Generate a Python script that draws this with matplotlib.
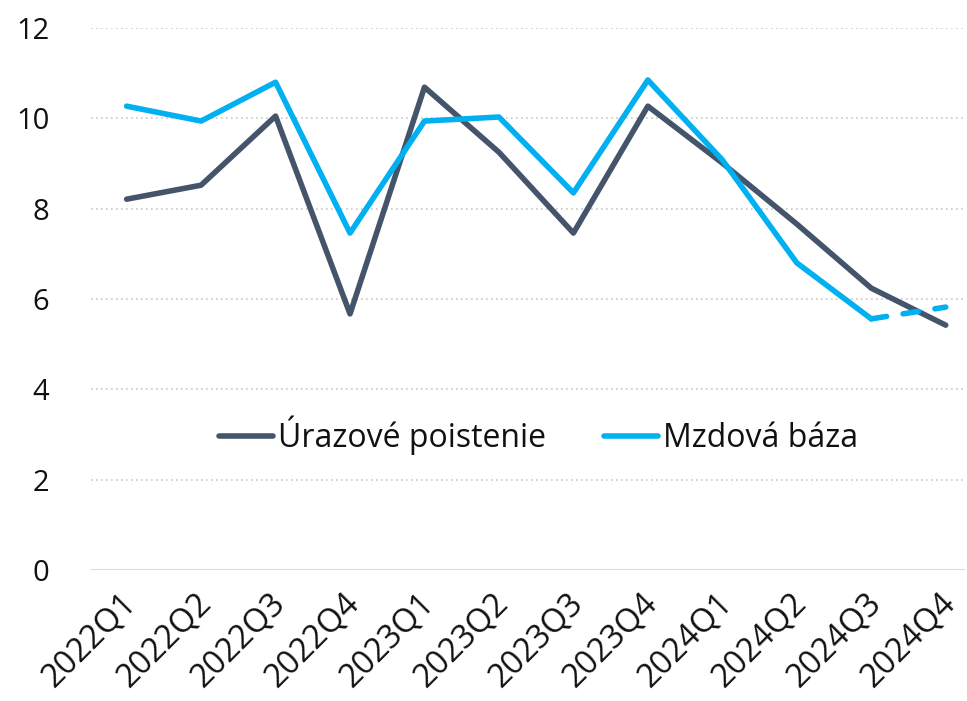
import matplotlib
matplotlib.use("Agg")
import matplotlib.pyplot as plt
from matplotlib.transforms import ScaledTranslation

quarters = ["2022Q1", "2022Q2", "2022Q3", "2022Q4",
            "2023Q1", "2023Q2", "2023Q3", "2023Q4",
            "2024Q1", "2024Q2", "2024Q3", "2024Q4"]
urazove = [8.21, 8.52, 10.05, 5.67, 10.69, 9.25, 7.46, 10.27, 9.01, 7.66, 6.24, 5.42]
mzdova = [10.27, 9.94, 10.80, 7.46, 9.94, 10.03, 8.35, 10.85, 9.08, 6.80, 5.56, 5.82]
n_actual = 11  # last point of Mzdová báza is a forecast (dashed)

DARK = "#44546A"
LIGHT = "#00B0F0"

plt.rcParams["font.family"] = ["Open Sans", "DejaVu Sans"]

fig = plt.figure(figsize=(9.67, 7.01), dpi=100)
ax = fig.add_axes([0.094, 0.187, 0.904, 0.773])

x = list(range(len(quarters)))
ax.plot(x, urazove, color=DARK, lw=4, solid_capstyle="round",
        solid_joinstyle="round", label="Úrazové poistenie", zorder=3)
ax.plot(x[:n_actual], mzdova[:n_actual], color=LIGHT, lw=4, solid_capstyle="round",
        solid_joinstyle="round", label="Mzdová báza", zorder=3)
ax.plot(x[n_actual - 1:], mzdova[n_actual - 1:], color=LIGHT, lw=4,
        linestyle=(0, (2.8, 3)), dash_capstyle="round", zorder=3)

ax.set_ylim(0, 12)
ax.set_xlim(-0.48, 11.26)
ax.set_yticks(range(0, 13, 2))
ax.set_xticks(x)
ax.set_xticklabels(quarters, rotation=45, ha="right", rotation_mode="anchor")
ax.tick_params(axis="both", length=0, labelsize=21, labelcolor="#111111")
ax.tick_params(axis="x", pad=12, labelsize=23.5)
ax.tick_params(axis="y", pad=30)

# nudge the rotated quarter labels a little to the left
shift = ScaledTranslation(-5 / 72, 0, fig.dpi_scale_trans)
for lbl in ax.get_xticklabels():
    lbl.set_transform(lbl.get_transform() + shift)

for v in range(2, 13, 2):
    ax.axhline(v, color="#c8c8c8", lw=1.2, linestyle=(0, (1, 2)), zorder=1)
ax.axhline(0, color="#d9d9d9", lw=1.5, zorder=1)

for s in ax.spines.values():
    s.set_visible(False)

ax.legend(loc="center", bbox_to_anchor=(0.512, 0.249), ncol=2, frameon=False,
          fontsize=23, handlelength=1.7, handletextpad=0.15, columnspacing=1.8,
          labelcolor="#111111")

fig.savefig("out.png", dpi=100)
